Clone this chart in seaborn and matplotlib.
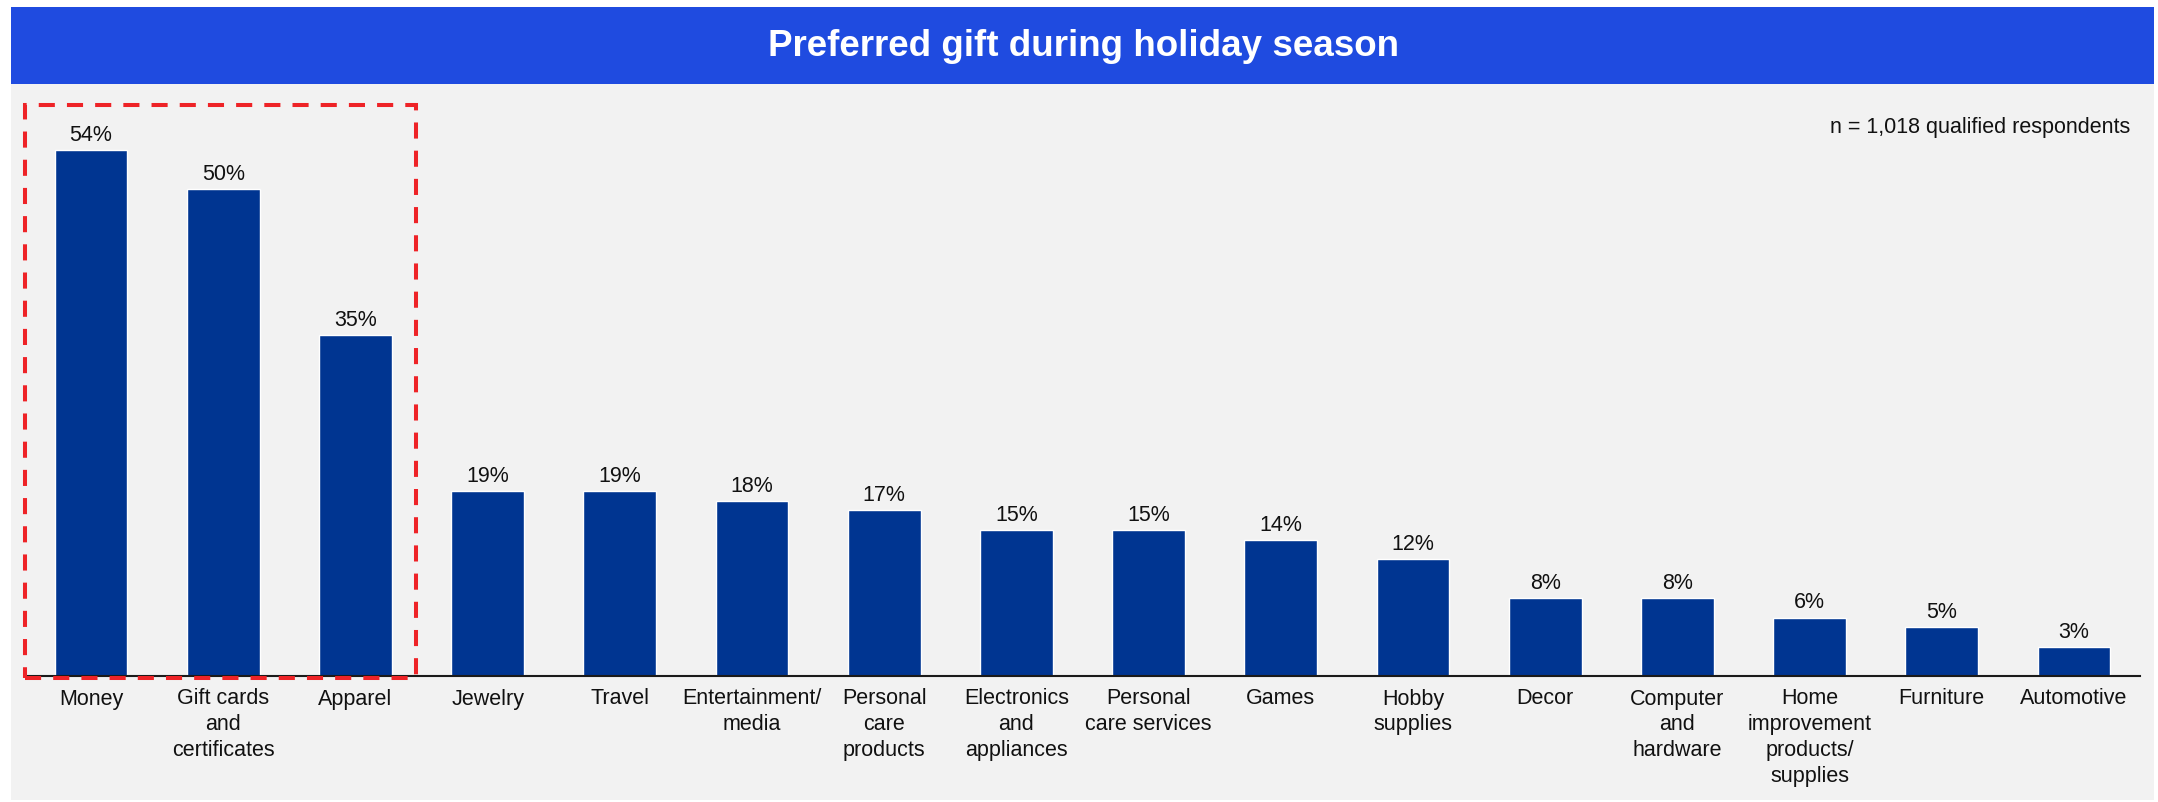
import matplotlib
matplotlib.use("Agg")
import matplotlib.pyplot as plt
from matplotlib.patches import Rectangle
import seaborn as sns
import pandas as pd

# Survey results
categories = [
    "Money", "Gift cards\nand\ncertificates", "Apparel", "Jewelry", "Travel",
    "Entertainment/\nmedia", "Personal\ncare\nproducts", "Electronics\nand\nappliances",
    "Personal\ncare services", "Games", "Hobby\nsupplies", "Decor",
    "Computer\nand\nhardware", "Home\nimprovement\nproducts/\nsupplies", "Furniture",
    "Automotive",
]
shares = [54, 50, 35, 19, 19, 18, 17, 15, 15, 14, 12, 8, 8, 6, 5, 3]
highlighted = 3  # leading categories framed by the dashed box

title = "Preferred gift during holiday season"
note = "n = 1,018 qualified respondents"

BAR = "#003591"
TITLE_BG = "#1F4BE0"
PANEL = "#F2F2F2"
RED = "#EE2327"

sns.set_theme(style="white")
plt.rcParams["font.family"] = ["Liberation Sans", "DejaVu Sans"]

W, H, DPI = 2158, 802, 100
fig = plt.figure(figsize=(W / DPI, H / DPI), dpi=DPI, facecolor="white")

def px_box(x0, y0, x1, y1):
    """Figure-fraction rectangle from pixel edges (y measured from top)."""
    return (x0 / W, 1 - y1 / H, (x1 - x0) / W, (y1 - y0) / H)

# Background panel and title band
bx, by, bw, bh = px_box(11, 84, 2154, 800)
fig.patches.append(Rectangle((bx, by), bw, bh, transform=fig.transFigure,
                             facecolor=PANEL, edgecolor="none", zorder=-10))
tx, ty, tw, th = px_box(11, 7, 2154, 84)
fig.patches.append(Rectangle((tx, ty), tw, th, transform=fig.transFigure,
                             facecolor=TITLE_BG, edgecolor="none", zorder=-10))
fig.text(1083 / W, 1 - 46 / H, title, color="white", fontsize=26.5,
         fontweight="bold", ha="center", va="center")

# Plot area: baseline at y=676 px, spanning x 25..2140 px
ax = fig.add_axes(px_box(25, 84, 2140, 676))
ax.set_facecolor("none")
ax.set_zorder(5)

df = pd.DataFrame({"category": categories, "share": shares})
sns.barplot(data=df, x="category", y="share", color=BAR, saturation=1,
            width=0.55, ax=ax, zorder=2)

ax.bar_label(ax.containers[0], labels=[f"{v}%" for v in shares],
             padding=3, fontsize=15.5, color="#111111")

ax.set_xlim(-0.5, len(categories) - 0.5)
ax.set_ylim(0, 60.8)
ax.set_xlabel("")
ax.set_ylabel("")
ax.set_yticks([])
ax.tick_params(axis="x", length=0, pad=9, labelsize=15.5, colors="#111111")
for lbl in ax.get_xticklabels():
    lbl.set_linespacing(1.3)

for side in ("top", "right", "left"):
    ax.spines[side].set_visible(False)
ax.spines["bottom"].set_color("#1a1a1a")
ax.spines["bottom"].set_linewidth(1.5)
ax.spines["bottom"].set_zorder(3)

# Dashed frame around the top categories
box = Rectangle((-0.5, -0.2), highlighted - 0.04, 58.8, fill=False,
                edgecolor=RED, linewidth=2.9, linestyle=(0, (4, 3)),
                clip_on=False, zorder=4)
ax.add_patch(box)

fig.text(2130 / W, 1 - 128 / H, note, fontsize=15.5, color="#111111",
         ha="right", va="center")

fig.savefig("out.png", dpi=DPI, facecolor="white")
